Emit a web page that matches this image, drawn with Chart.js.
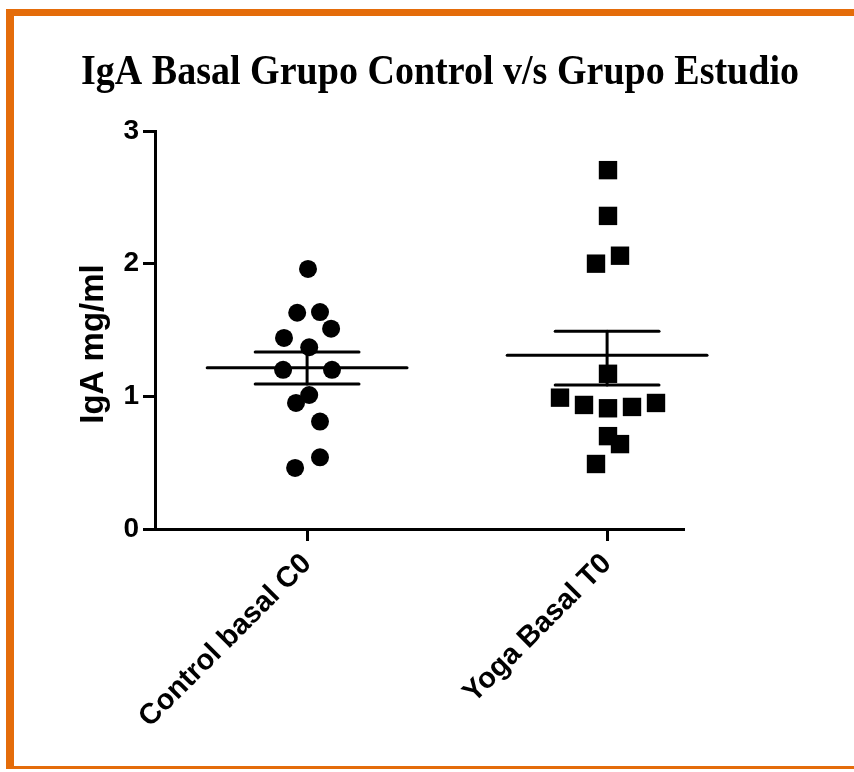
<!DOCTYPE html>
<html>
<head>
<meta charset="utf-8">
<script src="https://cdn.jsdelivr.net/npm/chart.js@4"></script>
<style>
  body { margin: 0; background: #fff; }
  #wrap { position: relative; width: 854px; height: 772px; overflow: hidden; }
  #frame {
    position: absolute; left: 6px; top: 9px; width: 900px; height: 750px;
    border-top: 7px solid #e46c0a; border-left: 8px solid #e46c0a; border-bottom: 3px solid #e46c0a;
    pointer-events: none;
  }
  canvas { position: absolute; left: 0; top: 0; }
</style>
</head>
<body>
<div id="wrap">
  <canvas id="chart" width="854" height="772"></canvas>
  <div id="frame"></div>
</div>
<script>
// values
const categories = ['Control basal C0', 'Yoga Basal T0'];
const controlX = [1.003, 0.967, 1.043, 1.080, 0.923, 1.007, 0.920, 1.083, 1.007, 0.963, 1.043, 1.043, 0.960];
const controlY = [1.96, 1.63, 1.635, 1.51, 1.44, 1.37, 1.20, 1.20, 1.01, 0.95, 0.81, 0.54, 0.46];
const yogaX = [2.003, 2.003, 2.043, 1.963, 2.003, 1.843, 1.923, 2.003, 2.083, 2.163, 2.003, 2.043, 1.963];
const yogaY = [2.705, 2.36, 2.06, 2.00, 1.17, 0.99, 0.935, 0.91, 0.92, 0.95, 0.70, 0.64, 0.49];
const means = [1.215, 1.31];
const semUpper = [1.334, 1.49];
const semLower = [1.093, 1.085];
const yTicks = [0, 1, 2, 3];

const MEAN_HALF = 0.333; // half width of mean bar, in x units
const SEM_HALF = 0.173;

function seg(x1, y1, x2, y2) {
    return {
        type: 'line',
        data: [{ x: x1, y: y1 }, { x: x2, y: y2 }],
        borderColor: '#000',
        borderWidth: 3,
        pointRadius: 0,
        borderCapStyle: 'round',
        clip: false
    };
}

// mean +/- SEM lines for each group
const lineSets = [];
means.forEach((m, i) => {
    const cx = i + 1;
    lineSets.push(seg(cx - MEAN_HALF, m, cx + MEAN_HALF, m));
    lineSets.push(seg(cx - SEM_HALF, semUpper[i], cx + SEM_HALF, semUpper[i]));
    lineSets.push(seg(cx - SEM_HALF, semLower[i], cx + SEM_HALF, semLower[i]));
    lineSets.push(seg(cx, semLower[i], cx, semUpper[i]));
});

const bgPlugin = {
    id: 'bg',
    beforeDraw(chart) {
        const ctx = chart.ctx;
        ctx.save();
        ctx.fillStyle = '#fff';
        ctx.fillRect(0, 0, chart.width, chart.height);
        ctx.restore();
    }
};

// chart title and y axis title, placed like the original
const textPlugin = {
    id: 'texts',
    afterDraw(chart) {
        const ctx = chart.ctx;
        const text = 'IgA Basal Grupo Control v/s Grupo Estudio';
        ctx.save();
        ctx.font = 'bold 42px "Liberation Serif", "Times New Roman", serif';
        const w = ctx.measureText(text).width;
        const sx = 718 / w; // the title is squeezed horizontally in the original
        ctx.translate(81, 84);
        ctx.scale(sx, 1);
        ctx.fillStyle = '#000';
        ctx.textBaseline = 'alphabetic';
        ctx.fillText(text, 0, 0);
        ctx.restore();

        ctx.save();
        ctx.translate(94, 344);
        ctx.rotate(-Math.PI / 2);
        ctx.font = 'bold 33px "Liberation Sans", Arial, sans-serif';
        ctx.fillStyle = '#000';
        ctx.textAlign = 'center';
        ctx.textBaseline = 'middle';
        ctx.fillText('IgA mg/ml', 0, 0);
        ctx.restore();
    }
};

const ctx = document.getElementById('chart').getContext('2d');
new Chart(ctx, {
    type: 'scatter',
    data: {
        datasets: [
            ...lineSets,
            {
                label: categories[0],
                data: controlX.map((x, i) => ({ x: x, y: controlY[i] })),
                pointStyle: 'circle',
                pointRadius: 9,
                backgroundColor: '#000',
                borderColor: '#000',
                borderWidth: 0,
                clip: false
            },
            {
                label: categories[1],
                data: yogaX.map((x, i) => ({ x: x, y: yogaY[i] })),
                pointStyle: 'rect',
                pointRadius: 13,
                backgroundColor: '#000',
                borderColor: '#000',
                borderWidth: 0,
                clip: false
            }
        ]
    },
    options: {
        responsive: false,
        animation: false,
        events: [],
        layout: { padding: { left: 75, top: 131, right: 171, bottom: 0 } },
        plugins: {
            legend: { display: false },
            tooltip: { enabled: false },
            title: { display: false }
        },
        scales: {
            x: {
                type: 'linear',
                min: 0.493,
                max: 2.253,
                afterFit(scale) { scale.height = 243; },
                afterBuildTicks(scale) { scale.ticks = [{ value: 1 }, { value: 2 }]; },
                border: { display: true, color: '#000', width: 3 },
                grid: { drawOnChartArea: false, color: '#000', lineWidth: 3, tickLength: 12 },
                ticks: {
                    autoSkip: false,
                    minRotation: 45,
                    maxRotation: 45,
                    padding: 6,
                    color: '#000',
                    font: { family: '"Liberation Sans", Arial, sans-serif', size: 29, weight: 'bold' },
                    callback: (v) => categories[v - 1] || ''
                }
            },
            y: {
                min: 0,
                max: 3,
                afterFit(scale) { scale.width = 80; },
                afterBuildTicks(scale) { scale.ticks = yTicks.map(v => ({ value: v })); },
                border: { display: true, color: '#000', width: 3 },
                grid: { drawOnChartArea: false, color: '#000', lineWidth: 3, tickLength: 12 },
                ticks: {
                    padding: 4,
                    color: '#000',
                    font: { family: '"Liberation Sans", Arial, sans-serif', size: 28, weight: 'bold' }
                }
            }
        }
    },
    plugins: [bgPlugin, textPlugin]
});
</script>
</body>
</html>
